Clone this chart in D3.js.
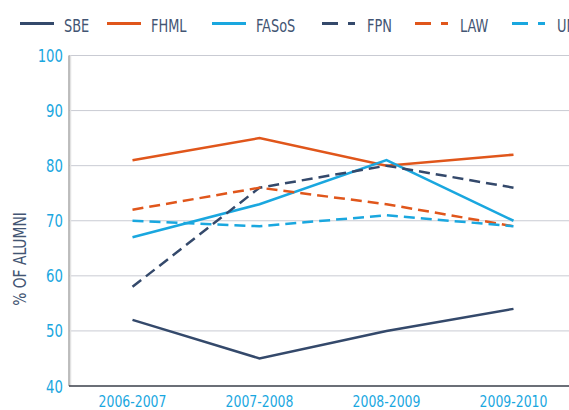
<!DOCTYPE html>
<html>
<head>
<meta charset="utf-8">
<script src="https://cdn.jsdelivr.net/npm/d3@7"></script>
<style>
body { margin: 0; background: #fff; }
text { font-family: "DejaVu Sans Condensed", "Liberation Sans Narrow", sans-serif; }
</style>
</head>
<body>
<div id="chart"></div>
<script>
// data
var years = ['2006-2007', '2007-2008', '2008-2009', '2009-2010'];
var sbe = [52, 45, 50, 54];
var fhml = [81, 85, 80, 82];
var fasos = [67, 73, 81, 70];
var fpn = [58, 76, 80, 76];
var law = [72, 76, 73, 69];
var um = [70, 69, 71, 69];
var yTicks = [40, 50, 60, 70, 80, 90, 100];

var navy = '#34496b', orange = '#e0561b', cyan = '#1aa7df', slate = '#435573';

var series = [
    { name: 'SBE', values: sbe, color: navy, dash: null },
    { name: 'FHML', values: fhml, color: orange, dash: null },
    { name: 'FASoS', values: fasos, color: cyan, dash: null },
    { name: 'FPN', values: fpn, color: navy, dash: '11,6' },
    { name: 'LAW', values: law, color: orange, dash: '11,6' },
    { name: 'UM', values: um, color: cyan, dash: '11,6' }
];
var legendX = [20, 107, 212, 322, 415, 512];

var width = 569, height = 410;
var svg = d3.select('#chart').append('svg')
    .attr('width', width)
    .attr('height', height);

var mLeft = 69, mTop = 55.5, mBottom = 386, mRight = 577;

var x = d3.scaleBand().domain(years).range([mLeft, mRight]);
var y = d3.scaleLinear().domain([40, 100]).range([mBottom, mTop]);

// gridlines
svg.append('g').selectAll('line').data(yTicks.slice(1)).join('line')
    .attr('x1', mLeft).attr('x2', width)
    .attr('y1', d => y(d)).attr('y2', d => y(d))
    .attr('stroke', '#c9cbd3').attr('stroke-width', 1);

// left axis (grey with shadow)
svg.append('line').attr('x1', mLeft + 1.5).attr('x2', mLeft + 1.5).attr('y1', mTop).attr('y2', mBottom)
    .attr('stroke', '#e2e2e2').attr('stroke-width', 1.5);
svg.append('line').attr('x1', mLeft).attr('x2', mLeft).attr('y1', mTop).attr('y2', mBottom)
    .attr('stroke', '#a8a8a8').attr('stroke-width', 1.5);
// bottom axis
svg.append('line').attr('x1', mLeft).attr('x2', width).attr('y1', mBottom).attr('y2', mBottom)
    .attr('stroke', '#3a3f4a').attr('stroke-width', 1.5);

// y tick labels (condensed)
svg.append('g').selectAll('text').data(yTicks).join('text')
    .attr('transform', d => `translate(${mLeft - 6},${y(d) + 6.5}) scale(0.82,1)`)
    .attr('text-anchor', 'end')
    .attr('fill', cyan)
    .style('font-size', '18px')
    .text(d => d);

// x tick labels
svg.append('g').selectAll('text').data(years).join('text')
    .attr('transform', d => `translate(${x(d) + x.bandwidth() / 2},407) scale(0.84,1)`)
    .attr('text-anchor', 'middle')
    .attr('fill', cyan)
    .style('font-size', '16.5px')
    .text(d => d);

// y title
svg.append('text')
    .attr('transform', 'translate(26,259) rotate(-90) scale(0.88,1)')
    .attr('text-anchor', 'middle')
    .attr('fill', slate)
    .style('font-size', '17.5px')
    .text('% OF ALUMNI');

// lines
var line = d3.line()
    .x((d, i) => x(years[i]) + x.bandwidth() / 2)
    .y(d => y(d));

svg.append('g').selectAll('path').data(series).join('path')
    .attr('d', d => line(d.values))
    .attr('fill', 'none')
    .attr('stroke', d => d.color)
    .attr('stroke-width', 2.5)
    .attr('stroke-dasharray', d => d.dash);

// legend
var legend = svg.append('g').selectAll('g').data(series).join('g')
    .attr('transform', (d, i) => `translate(${legendX[i]},23.5)`);
legend.append('line')
    .attr('x1', 0).attr('x2', 34).attr('y1', 0).attr('y2', 0)
    .attr('stroke', d => d.color)
    .attr('stroke-width', 3)
    .attr('stroke-dasharray', d => d.dash ? '16,10,7,40' : null);
legend.append('text')
    .attr('transform', d => `translate(${d.dash ? 45 : 44},8) scale(0.8,1)`)
    .attr('fill', slate)
    .style('font-size', '18px')
    .text(d => d.name);
</script>
</body>
</html>
